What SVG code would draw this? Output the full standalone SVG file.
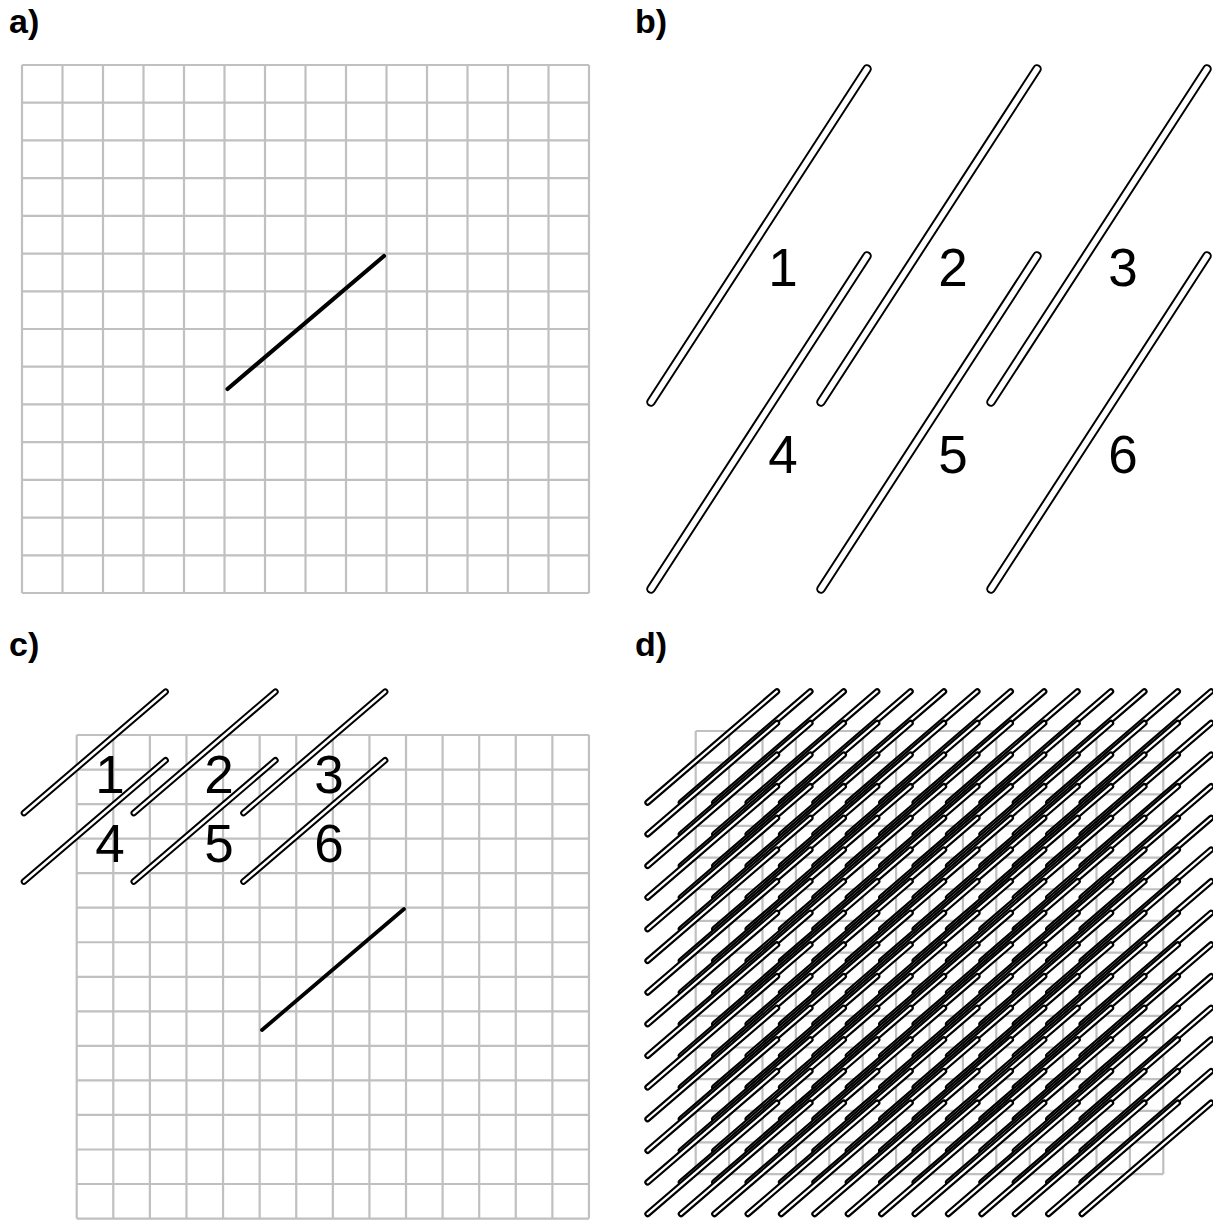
<svg xmlns="http://www.w3.org/2000/svg" xmlns:xlink="http://www.w3.org/1999/xlink" width="1213" height="1220" viewBox="0 0 1213 1220">
<style>
.bg{fill:#fff}
.grid{fill:none;stroke:#c0c0c0;stroke-width:2.2}
.seg{stroke:#000;stroke-linecap:round}
.pk{stroke:#000;stroke-linecap:round}
.pw{stroke:#fff;stroke-linecap:round}
.plabel{font-family:"Liberation Sans",Arial,sans-serif;font-weight:bold;font-size:34px;fill:#000}
.num{font-family:"Liberation Sans",Arial,sans-serif;font-size:53px;fill:#000;text-anchor:middle}
</style>
<defs>
<g id="pillB"><line x1="0" y1="0" x2="216" y2="-333" class="pk" stroke-width="9.5"/><line x1="0" y1="0" x2="216" y2="-333" class="pw" stroke-width="5.6"/></g>
<g id="pillC"><line x1="0" y1="0" x2="141.6" y2="-121.3" class="pk" stroke-width="6.6"/><line x1="0" y1="0" x2="141.6" y2="-121.3" class="pw" stroke-width="2.6"/></g>
<g id="pillD"><line x1="-48.1" y1="71.5" x2="81.2" y2="-39.6" class="pk" stroke-width="6.6"/><line x1="-48.1" y1="71.5" x2="81.2" y2="-39.6" class="pw" stroke-width="2.2"/></g>
<g id="drow">
<use xlink:href="#pillD" x="0"/><use xlink:href="#pillD" x="33.4"/><use xlink:href="#pillD" x="66.8"/><use xlink:href="#pillD" x="100.2"/><use xlink:href="#pillD" x="133.6"/><use xlink:href="#pillD" x="167"/><use xlink:href="#pillD" x="200.4"/><use xlink:href="#pillD" x="233.8"/><use xlink:href="#pillD" x="267.2"/><use xlink:href="#pillD" x="300.6"/><use xlink:href="#pillD" x="334"/><use xlink:href="#pillD" x="367.4"/><use xlink:href="#pillD" x="400.8"/><use xlink:href="#pillD" x="434.2"/>
</g>
</defs>
<rect class="bg" x="0" y="0" width="1213" height="1220"/>

<g id="panel-a">
<text class="plabel" x="9" y="33">a)</text>
<path class="grid" d="M22 65V593M62.5 65V593M103 65V593M143.5 65V593M184 65V593M224.5 65V593M265 65V593M305.5 65V593M346 65V593M386.5 65V593M427 65V593M467.5 65V593M508 65V593M548.5 65V593M589 65V593
M22 65H589M22 102.71H589M22 140.43H589M22 178.14H589M22 215.86H589M22 253.57H589M22 291.29H589M22 329H589M22 366.71H589M22 404.43H589M22 442.14H589M22 479.86H589M22 517.57H589M22 555.29H589M22 593H589"/>
<line id="a-line" class="seg" x1="227.5" y1="389" x2="384" y2="256" stroke-width="4.2"/>
</g>

<g id="panel-b">
<text class="plabel" x="635" y="33">b)</text>
<g id="b-pills">
<use xlink:href="#pillB" x="651" y="402"/>
<use xlink:href="#pillB" x="821" y="402"/>
<use xlink:href="#pillB" x="991" y="402"/>
<use xlink:href="#pillB" x="651" y="589"/>
<use xlink:href="#pillB" x="821" y="589"/>
<use xlink:href="#pillB" x="991" y="589"/>
</g>
<text class="num" x="783" y="286">1</text>
<text class="num" x="953" y="286">2</text>
<text class="num" x="1123" y="286">3</text>
<text class="num" x="783" y="473">4</text>
<text class="num" x="953" y="473">5</text>
<text class="num" x="1123" y="473">6</text>
</g>

<g id="panel-c">
<text class="plabel" x="9" y="656">c)</text>
<path class="grid" d="M76.7 735V1218.6M113.29 735V1218.6M149.88 735V1218.6M186.47 735V1218.6M223.06 735V1218.6M259.65 735V1218.6M296.24 735V1218.6M332.83 735V1218.6M369.42 735V1218.6M406.01 735V1218.6M442.6 735V1218.6M479.19 735V1218.6M515.78 735V1218.6M552.37 735V1218.6M588.96 735V1218.6
M76.7 735H588.96M76.7 769.54H588.96M76.7 804.08H588.96M76.7 838.62H588.96M76.7 873.16H588.96M76.7 907.7H588.96M76.7 942.24H588.96M76.7 976.78H588.96M76.7 1011.32H588.96M76.7 1045.86H588.96M76.7 1080.4H588.96M76.7 1114.94H588.96M76.7 1149.48H588.96M76.7 1184.02H588.96M76.7 1218.56H588.96"/>
<line id="c-line" class="seg" x1="262" y1="1030" x2="404" y2="909" stroke-width="3.8"/>
<g id="c-pills">
<use xlink:href="#pillC" x="24" y="813"/>
<use xlink:href="#pillC" x="133.8" y="813"/>
<use xlink:href="#pillC" x="243.5" y="813"/>
<use xlink:href="#pillC" x="24" y="881.6"/>
<use xlink:href="#pillC" x="133.8" y="881.6"/>
<use xlink:href="#pillC" x="243.5" y="881.6"/>
</g>
<text class="num" x="110" y="793">1</text>
<text class="num" x="219" y="793">2</text>
<text class="num" x="329" y="793">3</text>
<text class="num" x="110" y="862">4</text>
<text class="num" x="219" y="862">5</text>
<text class="num" x="329" y="862">6</text>
</g>

<g id="panel-d">
<text class="plabel" x="635" y="656">d)</text>
<path class="grid" d="M695.7 731V1174.1M729.1 731V1174.1M762.5 731V1174.1M795.9 731V1174.1M829.3 731V1174.1M862.7 731V1174.1M896.1 731V1174.1M929.5 731V1174.1M962.9 731V1174.1M996.3 731V1174.1M1029.7 731V1174.1M1063.1 731V1174.1M1096.5 731V1174.1M1129.9 731V1174.1M1163.3 731V1174.1
M695.7 731H1163.3M695.7 762.65H1163.3M695.7 794.3H1163.3M695.7 825.95H1163.3M695.7 857.6H1163.3M695.7 889.25H1163.3M695.7 920.9H1163.3M695.7 952.55H1163.3M695.7 984.2H1163.3M695.7 1015.85H1163.3M695.7 1047.5H1163.3M695.7 1079.15H1163.3M695.7 1110.8H1163.3M695.7 1142.45H1163.3M695.7 1174.1H1163.3"/>
<g id="d-pills">
<use xlink:href="#drow" transform="translate(695.7 731)"/>
<use xlink:href="#drow" transform="translate(695.7 762.65)"/>
<use xlink:href="#drow" transform="translate(695.7 794.3)"/>
<use xlink:href="#drow" transform="translate(695.7 825.95)"/>
<use xlink:href="#drow" transform="translate(695.7 857.6)"/>
<use xlink:href="#drow" transform="translate(695.7 889.25)"/>
<use xlink:href="#drow" transform="translate(695.7 920.9)"/>
<use xlink:href="#drow" transform="translate(695.7 952.55)"/>
<use xlink:href="#drow" transform="translate(695.7 984.2)"/>
<use xlink:href="#drow" transform="translate(695.7 1015.85)"/>
<use xlink:href="#drow" transform="translate(695.7 1047.5)"/>
<use xlink:href="#drow" transform="translate(695.7 1079.15)"/>
<use xlink:href="#drow" transform="translate(695.7 1110.8)"/>
<use xlink:href="#drow" transform="translate(695.7 1142.45)"/>
</g>
</g>
</svg>
